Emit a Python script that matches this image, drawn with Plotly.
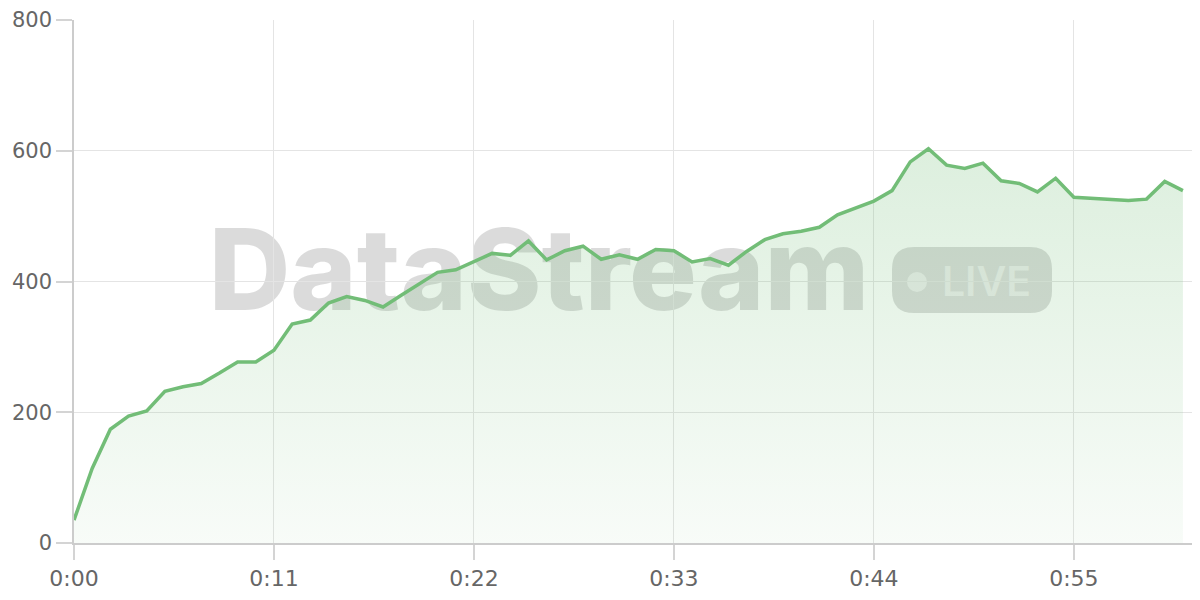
import plotly.graph_objects as go

# seconds since start
seconds = list(range(62))
values = [35, 114, 174, 194, 202, 232, 239, 244, 260, 277,
          277, 295, 335, 341, 367, 377, 371, 361, 379, 396,
          414, 418, 430, 443, 440, 462, 433, 447, 454, 434,
          441, 434, 449, 447, 430, 435, 425, 446, 464, 473,
          477, 483, 502, 512, 523, 539, 583, 603, 578, 573,
          581, 554, 550, 537, 558, 529, 527, 525, 524, 526,
          553, 539]

tick_vals = [0, 11, 22, 33, 44, 55]
tick_text = ['0:00', '0:11', '0:22', '0:33', '0:44', '0:55']
y_ticks = [0, 200, 400, 600, 800]

line_col = '#72bd77'
grid_col = '#e4e4e4'
tick_col = '#d4d4d4'
axis_col = '#cccccc'
font_col = '#666666'

fig = go.Figure(go.Scatter(
    x=seconds, y=values,
    mode='lines',
    line=dict(color=line_col, width=3.5),
    fill='tozeroy',
    fillgradient=dict(
        type='vertical',
        colorscale=[[0, 'rgba(109,187,114,0.05)'], [1, 'rgba(109,187,114,0.24)']],
        start=0, stop=620,
    ),
    hoverinfo='skip',
))

# page body has an 8px margin, so the figure is laid out 8px smaller and shifted
off = 8
pw, ph = 1126.0, 523.0
def px(x): return (x - 74) / pw
def py(y): return (543 - y) / ph

# rounded badge for "LIVE" (paper coords)
bx0, bx1, by0, by1 = px(892), px(1052), py(313), py(247)
rx, ry = 22 / pw, 22 / ph
badge = (f"M{bx0+rx},{by0} L{bx1-rx},{by0} Q{bx1},{by0} {bx1},{by0+ry} "
         f"L{bx1},{by1-ry} Q{bx1},{by1} {bx1-rx},{by1} "
         f"L{bx0+rx},{by1} Q{bx0},{by1} {bx0},{by1-ry} "
         f"L{bx0},{by0+ry} Q{bx0},{by0} {bx0+rx},{by0} Z")

wm = 'rgba(0,0,0,0.14)'

fig.update_layout(
    width=1200 - off, height=600 - off,
    margin=dict(l=74 - off, r=0, t=20 - off, b=600 - 543),
    paper_bgcolor='white',
    plot_bgcolor='white',
    showlegend=False,
    font=dict(family='DejaVu Sans, sans-serif', color=font_col, size=21),
    xaxis=dict(
        range=[0, 61.94],
        tickvals=tick_vals, ticktext=tick_text,
        showgrid=True, gridcolor=grid_col, gridwidth=1,
        ticks='outside', ticklen=15, tickcolor=tick_col, tickwidth=1.5,
        showline=True, linecolor=axis_col, linewidth=1.5,
        zeroline=False,
        tickfont=dict(size=22, color=font_col),
    ),
    yaxis=dict(
        range=[0, 800],
        tickvals=y_ticks,
        showgrid=True, gridcolor=grid_col, gridwidth=1,
        ticks='outside', ticklen=16, tickcolor=tick_col, tickwidth=1.5,
        showline=True, linecolor=axis_col, linewidth=1.5,
        zeroline=False,
        tickfont=dict(size=21, color=font_col),
    ),
    shapes=[
        # watermark word, drawn under the trace
        dict(type='rect', xref='paper', yref='paper', layer='between',
             x0=px(210), x1=px(868), y0=py(304), y1=py(225),
             line=dict(width=0), fillcolor='rgba(0,0,0,0)',
             label=dict(text='DataStream', textposition='middle center',
                        font=dict(family='Inter, Liberation Sans, sans-serif',
                                  size=113, weight=800, color=wm))),
        dict(type='path', path=badge, xref='paper', yref='paper', layer='between',
             fillcolor=wm, line=dict(width=0)),
        dict(type='circle', xref='paper', yref='paper', layer='between',
             x0=px(907), x1=px(927), y0=py(292), y1=py(272),
             fillcolor='rgba(255,255,255,0.5)', line=dict(width=0)),
        dict(type='rect', xref='paper', yref='paper', layer='between',
             x0=px(939), x1=px(1034), y0=py(294), y1=py(265),
             line=dict(width=0), fillcolor='rgba(0,0,0,0)',
             label=dict(text='LIVE', textposition='middle center',
                        font=dict(family='Inter, Liberation Sans, sans-serif',
                                  size=41, weight=600,
                                  color='rgba(255,255,255,0.5)'))),
    ],
)

fig.write_html("out.html")
